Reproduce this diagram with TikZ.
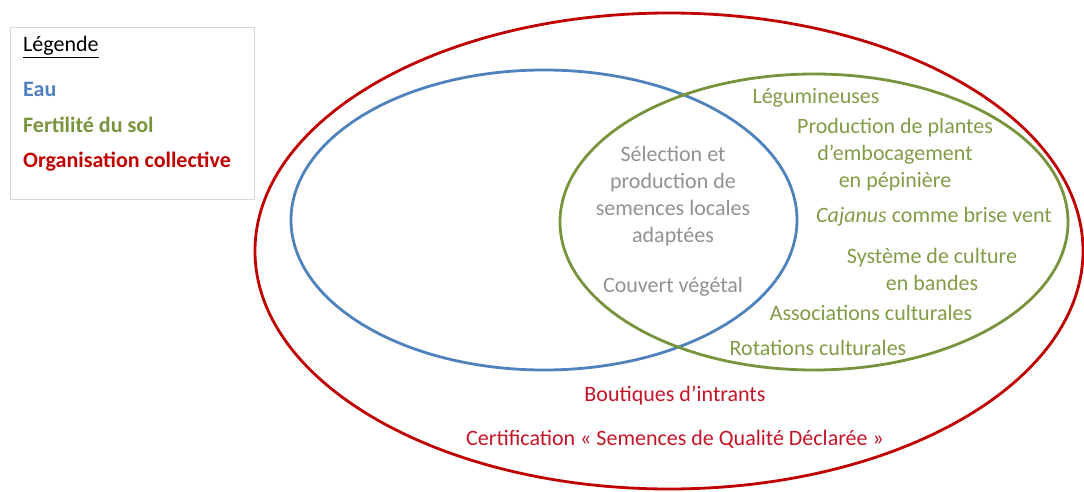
\documentclass[tikz,border=0pt]{standalone}
\usepackage{fontspec}
\setmainfont{Carlito}
\definecolor{eaublue}{RGB}{79,129,189}
\definecolor{solgreen}{RGB}{119,147,60}
\definecolor{orgred}{RGB}{192,0,0}
\definecolor{txtgreen}{RGB}{128,156,70}
\definecolor{txtred}{RGB}{196,20,40}
\definecolor{txtgray}{RGB}{145,145,145}
\definecolor{boxgray}{RGB}{215,215,215}
\usepackage{tikz}

\begin{document}
\begin{tikzpicture}[x=1pt, y=-1pt,
  every node/.style={inner sep=0pt, font=\fontsize{22}{27}\selectfont},
  legtext/.style={anchor=west, font=\fontsize{22}{26}\selectfont\bfseries},
  gtext/.style={text=txtgreen, align=center},
  ctext/.style={text=txtgray, align=center},
  rtext/.style={text=txtred, align=center}]
\useasboundingbox (0,0) rectangle (1084,492);

% Legend
\draw[boxgray, line width=1pt] (10,28) rectangle (254,199);
\node[anchor=west] (leg) at (23,47) {\underline{Légende}};
\node[legtext, text=eaublue] (legeau) at (23,89) {Eau};
\node[legtext, text=solgreen] (legsol) at (23,125) {Fertilité du sol};
\node[legtext, text=orgred] (legorg) at (23,162) {Organisation collective};

% Circles
\draw[orgred, line width=2.8pt] (669,251) ellipse [x radius=414pt, y radius=238pt];
\draw[eaublue, line width=2.8pt] (544,220) ellipse [x radius=253pt, y radius=150pt];
\draw[solgreen, line width=2.8pt] (814,222) ellipse [x radius=254pt, y radius=148pt];

% Common part
\node[ctext] (selection) at (673,196) {Sélection et\\production de\\semences locales\\adaptées};
\node[ctext] (couvert) at (673,287) {Couvert végétal};

% Soil fertility
\node[gtext] (legum) at (816,98) {Légumineuses};
\node[gtext] (plantes) at (895,155) {Production de plantes\\d’embocagement\\en pépinière};
\node[gtext] (cajanus) at (934,217) {\textit{Cajanus} comme brise vent};
\node[gtext] (bandes) at (932,269) {Système de culture\\en bandes};
\node[gtext] (assoc) at (871,313) {Associations culturales};
\node[gtext] (rotation) at (818,348) {Rotations culturales};

% Collective organisation
\node[rtext] (boutique) at (675,396) {Boutiques d’intrants};
\node[rtext] (certif) at (675,439) {Certification « Semences de Qualité Déclarée »};
\end{tikzpicture}
\end{document}
